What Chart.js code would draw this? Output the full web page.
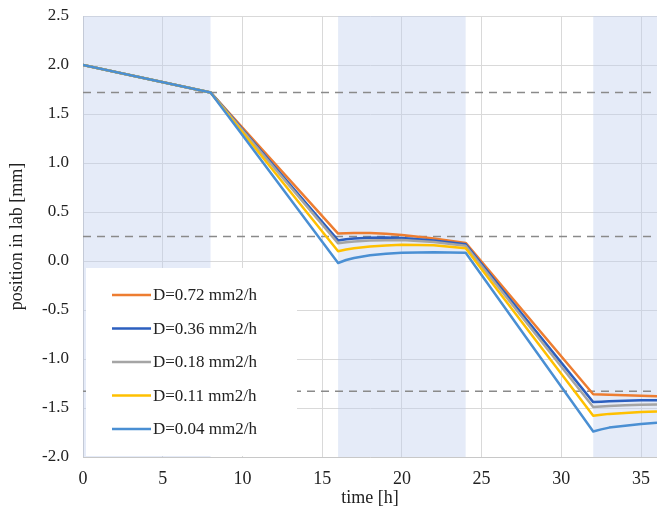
<!DOCTYPE html>
<html>
<head>
<meta charset="utf-8">
<script src="https://cdn.jsdelivr.net/npm/chart.js@4/dist/chart.umd.min.js"></script>
<style>
    html, body { margin: 0; padding: 0; background: #fff; }
    #wrap { width: 657px; height: 517px; }
</style>
</head>
<body>
<div id="wrap"><canvas id="positionChart"></canvas></div>
<script>
// time points [h] and positions [mm]
const labels = [`D=0.72 mm2/h`, `D=0.36 mm2/h`, `D=0.18 mm2/h`, `D=0.11 mm2/h`, `D=0.04 mm2/h`];
const colors = [`#ED7D31`, `#2C5FBF`, `#A5A5A5`, `#FFC000`, `#4A8FD3`];

const times = [0, 8, 16, 16.5, 17, 18, 19, 20, 22, 24, 32, 32.5, 33, 34, 35, 36];
const d072 = [2.0, 1.72, 0.28, 0.283, 0.285, 0.285, 0.278, 0.265, 0.23, 0.185, -1.36, -1.362, -1.365, -1.37, -1.375, -1.38];
const d036 = [2.0, 1.72, 0.21, 0.222, 0.23, 0.238, 0.24, 0.235, 0.21, 0.17, -1.44, -1.435, -1.43, -1.425, -1.422, -1.42];
const d018 = [2.0, 1.72, 0.18, 0.192, 0.20, 0.208, 0.213, 0.215, 0.195, 0.155, -1.49, -1.484, -1.48, -1.472, -1.468, -1.465];
const d011 = [2.0, 1.72, 0.10, 0.118, 0.13, 0.148, 0.158, 0.165, 0.16, 0.13, -1.58, -1.568, -1.56, -1.55, -1.542, -1.535];
const d004 = [2.0, 1.72, -0.02, 0.01, 0.03, 0.058, 0.074, 0.085, 0.09, 0.085, -1.74, -1.718, -1.70, -1.68, -1.663, -1.65];
const series = [d072, d036, d018, d011, d004];

// dashed reference levels
const refLevels = [1.72, 0.25, -1.33];

// shaded time windows
const bandStarts = [0, 16, 32];
const bandEnds = [8, 24, 40];

const xTicks = [0, 5, 10, 15, 20, 25, 30, 35];

const serif = `"Liberation Serif", "DejaVu Serif", serif`;

const curveSets = series.map((values, i) => ({
    label: labels[i],
    data: times.map((t, j) => ({ x: t, y: values[j] })),
    borderColor: colors[i],
    borderWidth: 2.5,
    pointRadius: 0,
    fill: false,
    tension: 0,
    borderJoinStyle: `round`,
    order: 10 - i
}));

const refSets = refLevels.map(level => ({
    label: `ref`,
    data: [{ x: 0, y: level }, { x: 36, y: level }],
    borderColor: `#8a8a8a`,
    borderWidth: 1.5,
    borderDash: [8, 6],
    pointRadius: 0,
    fill: false,
    order: 20
}));

const bandPlugin = {
    id: `bands`,
    beforeDatasetsDraw(chart) {
        const { ctx, chartArea, scales } = chart;
        ctx.save();
        ctx.beginPath();
        ctx.rect(chartArea.left, chartArea.top, chartArea.right - chartArea.left, chartArea.bottom - chartArea.top);
        ctx.clip();
        ctx.fillStyle = `rgba(190, 206, 238, 0.40)`;
        bandStarts.forEach((start, i) => {
            const x0 = scales.x.getPixelForValue(start);
            const x1 = scales.x.getPixelForValue(bandEnds[i]);
            ctx.fillRect(x0, chartArea.top, x1 - x0, chartArea.bottom - chartArea.top);
        });
        ctx.restore();
    }
};

const legendPlugin = {
    id: `boxLegend`,
    afterDraw(chart) {
        const { ctx } = chart;
        ctx.save();
        ctx.fillStyle = `#ffffff`;
        ctx.fillRect(86, 268, 211, 188);
        ctx.font = `17px ${serif}`;
        ctx.textBaseline = `middle`;
        ctx.textAlign = `left`;
        labels.forEach((label, i) => {
            const y = 295 + i * 33.5;
            ctx.strokeStyle = colors[i];
            ctx.lineWidth = 2.5;
            ctx.beginPath();
            ctx.moveTo(112, y);
            ctx.lineTo(151, y);
            ctx.stroke();
            ctx.fillStyle = `#222222`;
            ctx.fillText(label, 153, y + 1);
        });
        ctx.restore();
    }
};

const chart = new Chart(document.getElementById(`positionChart`), {
    type: `line`,
    data: { datasets: [...curveSets, ...refSets] },
    plugins: [bandPlugin, legendPlugin],
    options: {
        responsive: true,
        maintainAspectRatio: false,
        animation: false,
        layout: { padding: { top: 16, right: 0, left: 0, bottom: 0 } },
        plugins: {
            legend: { display: false },
            tooltip: { enabled: false }
        },
        scales: {
            x: {
                type: `linear`,
                min: 0,
                max: 36,
                afterBuildTicks(scale) {
                    scale.ticks = xTicks.map(v => ({ value: v }));
                },
                afterFit(scale) {
                    scale.height = 60;
                    scale.paddingLeft = 0;
                    scale.paddingRight = 0;
                },
                grid: { color: `#d9d9d9`, drawTicks: false },
                border: { color: `#c8c8c8` },
                ticks: {
                    color: `#222`,
                    font: { family: serif, size: 18 },
                    padding: 11,
                    maxRotation: 0
                },
                title: {
                    display: true,
                    text: `time [h]`,
                    color: `#222`,
                    font: { family: serif, size: 18 },
                    padding: { top: 0, bottom: 8 }
                }
            },
            y: {
                min: -2.0,
                max: 2.5,
                ticks: {
                    stepSize: 0.5,
                    color: `#222`,
                    font: { family: serif, size: 17 },
                    padding: 14,
                    callback: v => v.toFixed(1)
                },
                afterFit(scale) {
                    scale.width = 83;
                    scale.paddingTop = 0;
                    scale.paddingBottom = 0;
                },
                grid: { color: `#d9d9d9`, drawTicks: false },
                border: { color: `#c8c8c8` },
                title: {
                    display: true,
                    text: `position in lab [mm]`,
                    color: `#222`,
                    font: { family: serif, size: 18 },
                    padding: { top: 6, bottom: 0 }
                }
            }
        }
    }
});
</script>
</body>
</html>
